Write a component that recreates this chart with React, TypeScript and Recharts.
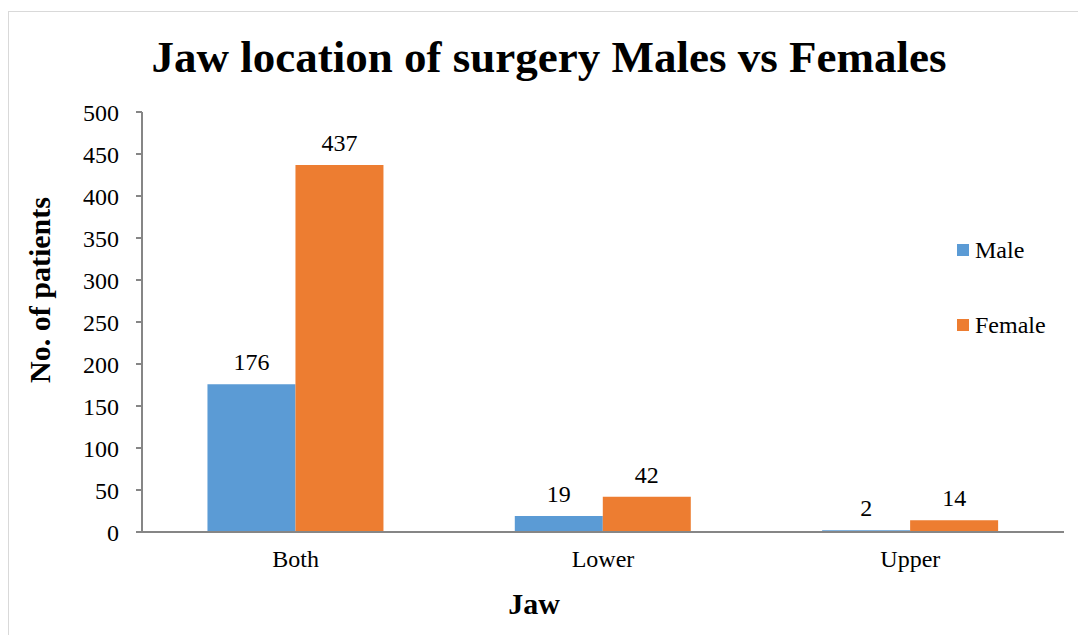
import React from 'react'
import { BarChart, Bar, XAxis, YAxis, LabelList } from 'recharts'

const categories = ['Both', 'Lower', 'Upper']
const male = [176, 19, 2]
const female = [437, 42, 14]
const yTicks = [0, 50, 100, 150, 200, 250, 300, 350, 400, 450, 500]
const seriesNames = ['Male', 'Female']
const seriesColors = ['#5B9BD5', '#ED7D31']

const data = categories.map((c, i) => ({ jaw: c, male: male[i], female: female[i] }))

const FONT = '"Liberation Serif", serif'
const AXIS = '#868686'
const tickStyle = { fontFamily: FONT, fontSize: 24, fill: '#000' }

export default function App() {
  return (
    <div style={{ position: 'absolute', left: 8, top: 11, width: 1075, height: 630, border: '1px solid #d9d9d9', background: '#fff', fontFamily: FONT, color: '#000' }}>
      <style>{`.recharts-wrapper text { font-family: ${FONT}; }`}</style>
      <div style={{ position: 'absolute', left: 0, width: 1080, top: 19, textAlign: 'center', fontWeight: 'bold', fontSize: 45, lineHeight: '52px' }}>
        Jaw location of surgery Males vs Females
      </div>
      <div style={{ position: 'absolute', left: 31, top: 278, width: 0, height: 0 }}>
        <div style={{ position: 'absolute', left: -150, top: -17, width: 300, textAlign: 'center', fontWeight: 'bold', fontSize: 30, lineHeight: '34px', transform: 'rotate(-90deg)' }}>
          No. of patients
        </div>
      </div>
      <div style={{ position: 'absolute', left: 425, top: 575, width: 200, textAlign: 'center', fontWeight: 'bold', fontSize: 30, lineHeight: '34px' }}>
        Jaw
      </div>
      {seriesNames.map((n, i) => (
        <div key={n} style={{ position: 'absolute', left: 948, top: 224 + i * 75, display: 'flex', alignItems: 'center', fontSize: 24, lineHeight: '28px' }}>
          <span style={{ width: 12, height: 12, background: seriesColors[i], display: 'inline-block', marginRight: 6 }} />
          <span>{n}</span>
        </div>
      ))}
      <BarChart width={1069} height={622} data={data} margin={{ top: 100, right: 14, left: 0, bottom: 0 }}
        barCategoryGap="21.3%" barGap={0} style={{ position: 'absolute', left: 0, top: 0 }}>
        <XAxis dataKey="jaw" height={102} stroke={AXIS} strokeWidth={2} tickLine={false} tickMargin={12} tick={tickStyle} />
        <YAxis width={133} domain={[0, 500]} ticks={yTicks} interval={0} stroke={AXIS} strokeWidth={2}
          tickSize={6} tickMargin={17} tick={tickStyle} />
        <Bar dataKey="male" name="Male" fill={seriesColors[0]} isAnimationActive={false}>
          <LabelList dataKey="male" position="top" offset={14} style={tickStyle} />
        </Bar>
        <Bar dataKey="female" name="Female" fill={seriesColors[1]} isAnimationActive={false}>
          <LabelList dataKey="female" position="top" offset={14} style={tickStyle} />
        </Bar>
      </BarChart>
    </div>
  )
}
